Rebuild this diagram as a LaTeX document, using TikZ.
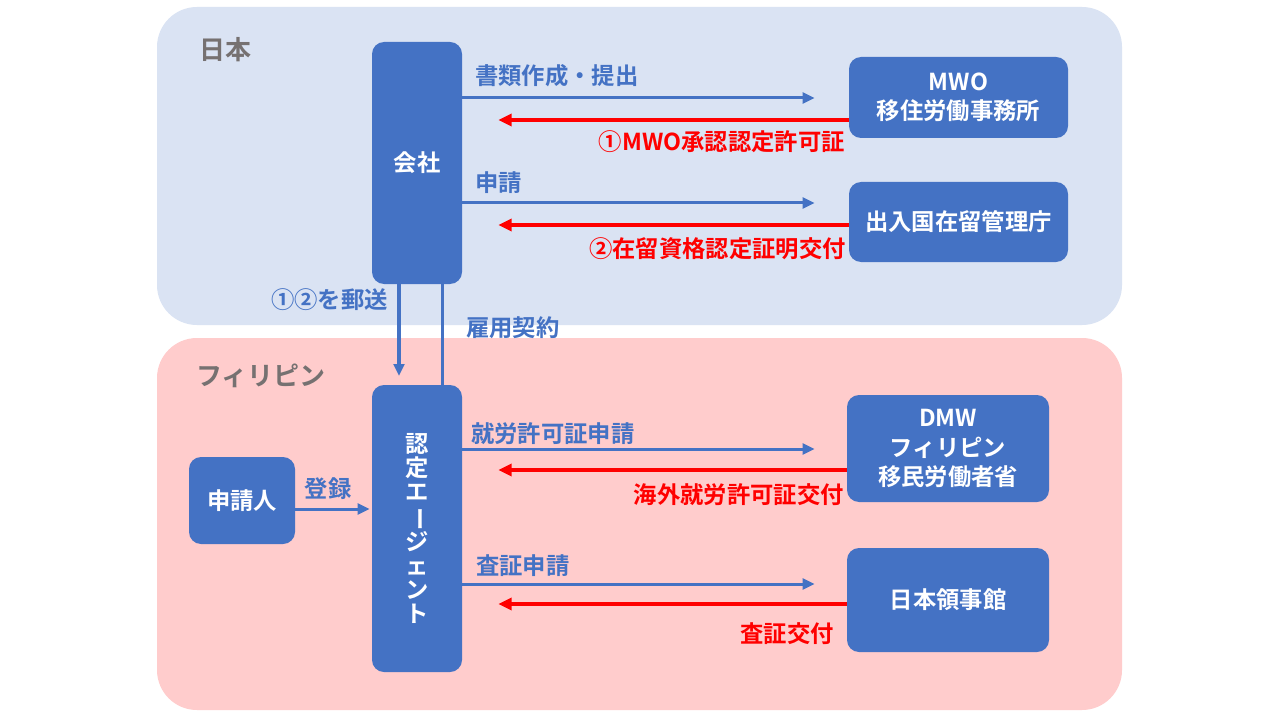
\documentclass[tikz,border=0pt]{standalone}
\usepackage{fontspec}
\setmainfont{Noto Sans CJK JP}[BoldFont={Noto Sans CJK JP Bold}]
\usetikzlibrary{arrows.meta, positioning}
\definecolor{boxblue}{HTML}{4472C4}
\definecolor{jpbg}{HTML}{DAE3F3}
\definecolor{phbg}{HTML}{FFCCCC}
\definecolor{regiongray}{HTML}{767171}
\definecolor{backred}{HTML}{FF0000}

\begin{document}
\begin{tikzpicture}[
  x=0.75pt, y=-0.75pt,
  region/.style={rounded corners=30pt},
  reg/.style={font=\bfseries\fontsize{19.5}{22}\selectfont, text=regiongray, anchor=west, inner sep=0pt},
  box/.style={fill=boxblue, rounded corners=9pt, align=center, text=white,
              font=\bfseries\fontsize{17.5}{22}\selectfont, inner sep=2pt},
  lbl/.style={font=\bfseries\fontsize{17.5}{21}\selectfont, text=boxblue, inner sep=0pt},
  rlbl/.style={lbl, text=backred, anchor=east},
  fwd/.style={-{Triangle[length=9pt, width=8pt]}, draw=boxblue, line width=2.25pt},
  back/.style={-{Triangle[length=10pt, width=9pt]}, draw=backred, line width=2.6pt},
  link/.style={draw=boxblue, line width=2.25pt}
]
\useasboundingbox (0,0) rectangle (1280,720);
\fill[white] (0,0) rectangle (1280,720);

% regions
\fill[jpbg, region] (157,7) rectangle (1122,325);
\fill[phbg, region] (157,338) rectangle (1122,710);
\node[reg] (jp) at (199,50) {日本};
\node[reg] (ph) at (196,376) {フィリピン};

% boxes
\node[box, minimum width=67.5pt, minimum height=181.5pt] (kaisha) at (417,163) {会社};
\node[box, minimum width=67.5pt, minimum height=215.25pt,
      font=\bfseries\fontsize{17.5}{18}\selectfont] (agent) at (417,528.5)
  {認\\定\\エ\\\rotatebox[origin=c]{-90}{ー}\\ジ\\ェ\\ン\\ト};
\node[box, minimum width=164.25pt, minimum height=60.75pt] (mwo) at (958.5,97.5) {MWO\\移住労働事務所};
\node[box, minimum width=164.25pt, minimum height=60pt] (imm) at (958.5,222) {出入国在留管理庁};
\node[box, minimum width=151.5pt, minimum height=80.25pt] (dmw) at (948,448.5) {DMW\\フィリピン\\移民労働者省};
\node[box, minimum width=151.5pt, minimum height=78pt] (emb) at (948,600) {日本領事館};
\node[box, minimum width=79.5pt, minimum height=65.25pt] (appl) at (242,500.5) {申請人};

% Japan side
\draw[fwd, shorten >=25.5pt] (kaisha.east |- 0,98) -- (mwo.west |- 0,98);
\draw[back, shorten >=27pt] (mwo.west |- 0,120) -- (kaisha.east |- 0,120);
\node[lbl, anchor=west] (l1) at (475,76) {書類作成・提出};
\node[rlbl] (r1) at (845,142) {①MWO承認認定許可証};

\draw[fwd, shorten >=25.5pt] (kaisha.east |- 0,203) -- (imm.west |- 0,203);
\draw[back, shorten >=27pt] (imm.west |- 0,225) -- (kaisha.east |- 0,225);
\node[lbl, anchor=west] (l2) at (475,183) {申請};
\node[rlbl] (r2) at (846,249) {②在留資格認定証明交付};

% between the two countries
\draw[fwd, line width=2.8pt, shorten >=6.5pt] (kaisha.south -| 399,0) -- (agent.north -| 399,0);
\draw[link] (kaisha.south -| 442,0) -- (agent.north -| 442,0);
\node[lbl, anchor=east] (mail) at (388,300) {①②を郵送};
\node[lbl, anchor=west] (contract) at (466,328) {雇用契約};

% Philippines side
\draw[fwd, shorten >=24pt] (agent.east |- 0,449) -- (dmw.west |- 0,449);
\draw[back, shorten >=27pt] (dmw.west |- 0,470) -- (agent.east |- 0,470);
\node[lbl, anchor=west] (l3) at (471,434) {就労許可証申請};
\node[rlbl] (r3) at (844,495) {海外就労許可証交付};

\draw[fwd, shorten >=24pt] (agent.east |- 0,584) -- (emb.west |- 0,584);
\draw[back, shorten >=27pt] (emb.west |- 0,604) -- (agent.east |- 0,604);
\node[lbl, anchor=west] (l4) at (476,566) {査証申請};
\node[rlbl] (r4) at (834,634) {査証交付};

\draw[fwd, shorten >=1.5pt] (appl.east |- 0,509) -- (agent.west |- 0,509);
\node[lbl] (reg) at (328,489) {登録};
\end{tikzpicture}
\end{document}
